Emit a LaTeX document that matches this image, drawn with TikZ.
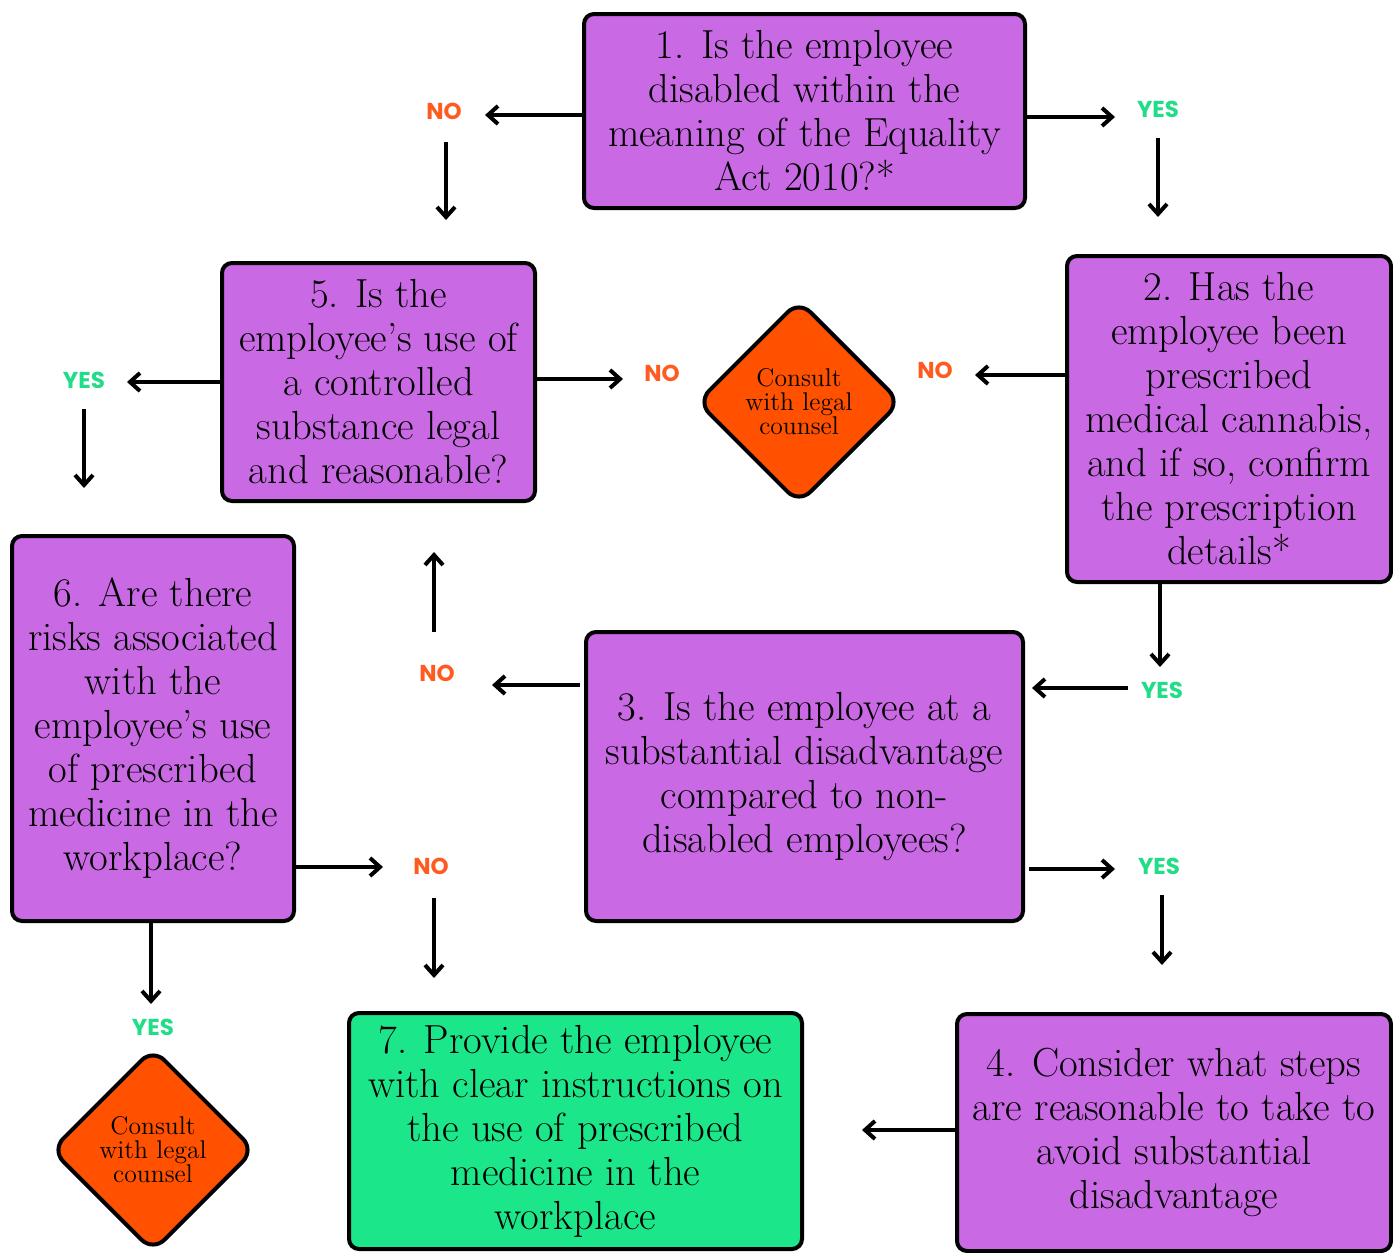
\documentclass[tikz,border=0pt]{standalone}
\usepackage{fontspec}
\newfontfamily\lblfont{Poppins}
\usetikzlibrary{shapes.geometric,arrows.meta}
\definecolor{boxpurple}{HTML}{C969E4}
\definecolor{boxgreen}{HTML}{1CE68A}
\definecolor{dorange}{HTML}{FF5100}
\definecolor{nocol}{HTML}{FF5A1F}
\definecolor{yescol}{HTML}{22DD88}
\tikzset{
  qbox/.style={draw=black, line width=2pt, rounded corners=5pt, fill=boxpurple, align=center,
    inner sep=0pt, font=\fontsize{20.3}{22}\selectfont, text=black},
  cdia/.style={diamond, aspect=1, draw=black, line width=2pt, fill=dorange, rounded corners=8pt,
    inner sep=0pt, minimum width=102pt, minimum height=102pt, align=center,
    font=\fontsize{12.8}{12}\selectfont},
  yeslbl/.style={text=yescol, font=\lblfont\bfseries\fontsize{11.5}{12}\selectfont, inner sep=0pt},
  nolbl/.style={text=nocol, font=\lblfont\bfseries\fontsize{11.5}{12}\selectfont, inner sep=0pt},
  arr/.style={line width=2pt, -{Straight Barb[length=5pt,width=9pt]}}
}
\begin{document}
\begin{tikzpicture}[x=0.5pt, y=-0.5pt]
\useasboundingbox (0,0) rectangle (1393,1253);
% boxes
\node[qbox, minimum width=220.5pt, minimum height=97pt] (b1) at (804.5,111)
  {1. Is the employee\\disabled within the\\meaning of the Equality\\Act 2010?*};
\node[qbox, minimum width=162pt, minimum height=163pt] (b2) at (1229,419)
  {2. Has the\\employee been\\prescribed\\medical cannabis,\\and if so, confirm\\the prescription\\details*};
\node[qbox, minimum width=156.5pt, minimum height=119pt] (b5) at (378.5,382)
  {5. Is the\\employee’s use of\\a controlled\\substance legal\\and reasonable?};
\node[qbox, minimum width=141pt, minimum height=192.5pt] (b6) at (153,728.5)
  {6. Are there\\risks associated\\with the\\employee’s use\\of prescribed\\medicine in the\\workplace?};
\node[qbox, minimum width=218.5pt, minimum height=144.5pt] (b3) at (804.5,776.5)
  {3. Is the employee at a\\substantial disadvantage\\compared to non-\\disabled employees?};
\node[qbox, fill=boxgreen, minimum width=226.5pt, minimum height=118pt] (b7) at (575.5,1131)
  {7. Provide the employee\\with clear instructions on\\the use of prescribed\\medicine in the\\workplace};
\node[qbox, minimum width=217pt, minimum height=118.5pt] (b4) at (1174,1132.5)
  {4. Consider what steps\\are reasonable to take to\\avoid substantial\\disadvantage};
% diamonds
\node[cdia] (d1) at (799,402) {Consult\\with legal\\counsel};
\node[cdia] (d2) at (153,1150) {Consult\\with legal\\counsel};
% labels
\node[nolbl] (l1) at (444,111) {NO};
\node[yeslbl] (l2) at (1158,109) {YES};
\node[nolbl] (l3) at (935,370) {NO};
\node[nolbl] (l4) at (662,373) {NO};
\node[yeslbl] (l5) at (84,380) {YES};
\node[yeslbl] (l6) at (1162,690) {YES};
\node[nolbl] (l7) at (437,673) {NO};
\node[yeslbl] (l8) at (1159,866) {YES};
\node[nolbl] (l9) at (431,866) {NO};
\node[yeslbl] (l10) at (153,1027) {YES};
% coordinates
\coordinate (e1) at (485,115);
\coordinate (s2) at (446,142); \coordinate (e2) at (446,220);
\coordinate (e3) at (1115,117);
\coordinate (s4) at (1158,138); \coordinate (e4) at (1158,217);
\coordinate (e5) at (975,375);
\coordinate (e6) at (623,379);
\coordinate (e7) at (127,382);
\coordinate (s8) at (84,409); \coordinate (e8) at (84,488);
\coordinate (e9) at (1160,667);
\coordinate (s10) at (1128,688); \coordinate (e10) at (1032,688);
\coordinate (e11) at (492,685);
\coordinate (s12) at (434,632); \coordinate (e12) at (434,552);
\coordinate (e13) at (1115,869);
\coordinate (s14) at (1162,895); \coordinate (e14) at (1162,965);
\coordinate (e15) at (862,1130);
\coordinate (e16) at (383,867);
\coordinate (s17) at (434,898); \coordinate (e17) at (434,978);
\coordinate (e18) at (151,1004);
% arrows
\draw[arr] (b1.west |- e1) -- (e1);
\draw[arr] (s2) -- (e2);
\draw[arr] (b1.east |- e3) -- (e3);
\draw[arr] (s4) -- (e4);
\draw[arr] (b2.west |- e5) -- (e5);
\draw[arr] (b5.east |- e6) -- (e6);
\draw[arr] (b5.west |- e7) -- (e7);
\draw[arr] (s8) -- (e8);
\draw[arr] (b2.south -| e9) -- (e9);
\draw[arr] (s10) -- (e10);
\draw[arr] ([xshift=-2pt]b3.west |- e11) -- (e11);
\draw[arr] (s12) -- (e12);
\draw[arr] ([xshift=2pt]b3.east |- e13) -- (e13);
\draw[arr] (s14) -- (e14);
\draw[arr] (b4.west |- e15) -- (e15);
\draw[arr] (b6.east |- e16) -- (e16);
\draw[arr] (s17) -- (e17);
\draw[arr] (b6.south -| e18) -- (e18);
\end{tikzpicture}
\end{document}
